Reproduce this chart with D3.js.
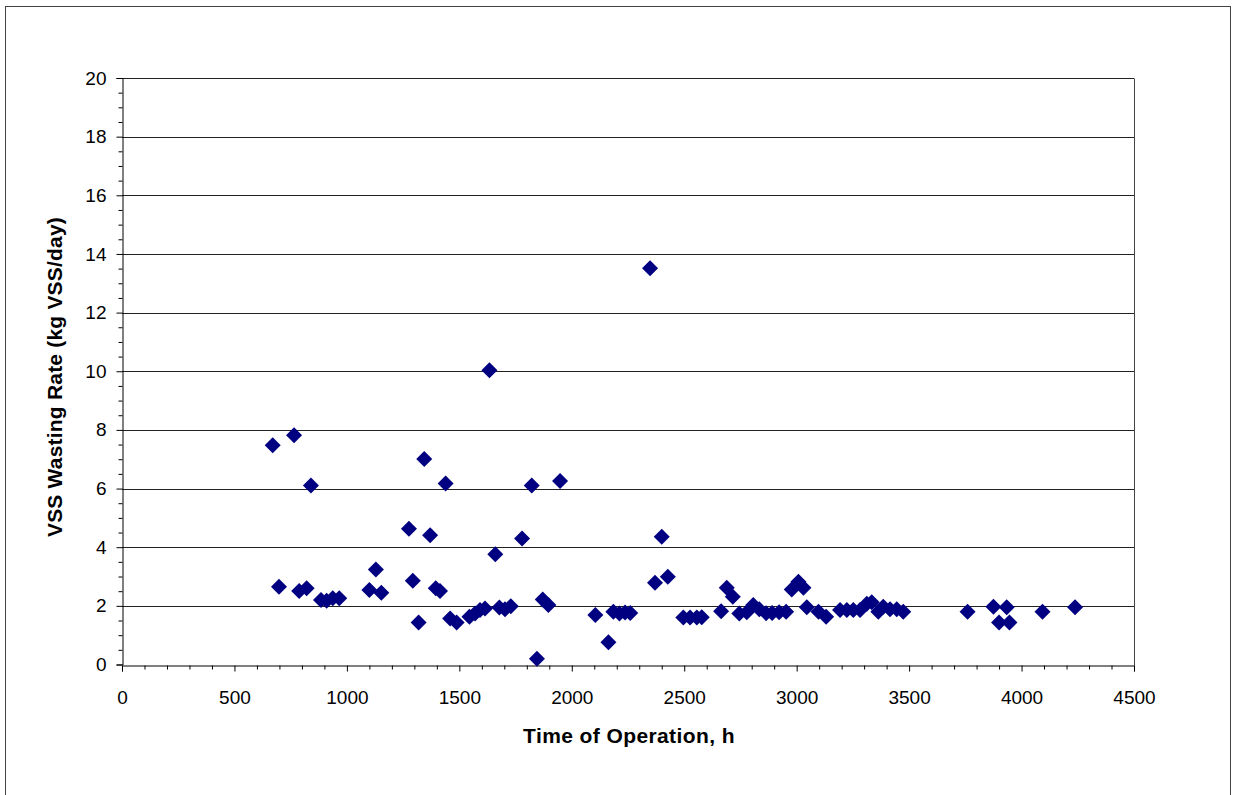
<!DOCTYPE html>
<html>
<head>
<meta charset="utf-8">
<script src="https://cdn.jsdelivr.net/npm/d3@7"></script>
<style>
  html, body { margin: 0; padding: 0; background: #fff; }
  svg { display: block; }
  text { font-family: "Liberation Sans", Arial, sans-serif; }
</style>
</head>
<body>
<svg id="chart" width="1233" height="795"></svg>
<script>
// Time of operation (h)
const timeHours = [
  670, 698, 765, 788, 821, 840, 885, 910, 937, 966,
  1100, 1129, 1153, 1276, 1293, 1319, 1344, 1370, 1395, 1414,
  1439, 1459, 1488, 1545, 1570, 1592, 1614, 1634, 1660, 1678,
  1703, 1729, 1779, 1822, 1845, 1871, 1896, 1948, 2105, 2163,
  2185, 2212, 2237, 2260, 2370, 2400, 2427, 2496, 2526, 2556,
  2578, 2664, 2689, 2716, 2745, 2778, 2807, 2834, 2864, 2891,
  2922, 2953, 2978, 3008, 3030, 3045, 3097, 3131, 3193, 3223,
  3252, 3282, 3312, 3334, 3363, 3385, 3415, 3445, 3474, 3760,
  3875, 3900, 3934, 3946, 4093, 4238, 2348
];
// VSS wasting rate (kg VSS/day)
const wastingRate = [
  7.48, 2.65, 7.82, 2.51, 2.60, 6.10, 2.20, 2.17, 2.26, 2.26,
  2.54, 3.24, 2.45, 4.63, 2.86, 1.43, 7.01, 4.41, 2.60, 2.51,
  6.17, 1.57, 1.43, 1.63, 1.74, 1.86, 1.91, 10.03, 3.76, 1.94,
  1.88, 1.99, 4.30, 6.10, 0.20, 2.22, 2.03, 6.26, 1.69, 0.76,
  1.80, 1.74, 1.77, 1.76, 2.79, 4.36, 2.99, 1.60, 1.60, 1.60,
  1.61, 1.82, 2.62, 2.31, 1.74, 1.78, 2.03, 1.88, 1.75, 1.76,
  1.78, 1.80, 2.56, 2.82, 2.62, 1.95, 1.80, 1.63, 1.86, 1.86,
  1.86, 1.86, 2.07, 2.12, 1.80, 1.97, 1.88, 1.88, 1.80, 1.80,
  1.97, 1.43, 1.95, 1.43, 1.80, 1.95, 13.51
];
const xTicks = [0, 500, 1000, 1500, 2000, 2500, 3000, 3500, 4000, 4500];
const yTicks = [0, 2, 4, 6, 8, 10, 12, 14, 16, 18, 20];
const xLabel = "Time of Operation, h";
const yLabel = "VSS Wasting Rate (kg VSS/day)";

const svg = d3.select("#chart");
const padL = 122, padR = 1134, padT = 78, padB = 664.5;

// outer chart border
svg.append("rect").attr("x", 5.5).attr("y", 6.5).attr("width", 1225).attr("height", 800)
  .attr("fill", "none").attr("stroke", "#444").attr("stroke-width", 1);

const x = d3.scaleLinear().domain([0, 4500]).range([padL, padR]);
const y = d3.scaleLinear().domain([0, 20]).range([padB, padT]);

// gridlines
svg.append("g").selectAll("line").data(yTicks.filter(d => d > 0)).join("line")
  .attr("x1", padL).attr("x2", padR)
  .attr("y1", d => Math.round(y(d)) + 0.5).attr("y2", d => Math.round(y(d)) + 0.5)
  .attr("stroke", "#222").attr("stroke-width", 1);

// right border of plot area
svg.append("line").attr("x1", padR + 0.5).attr("x2", padR + 0.5)
  .attr("y1", Math.round(padT) + 0.5).attr("y2", Math.round(padB) + 0.5)
  .attr("stroke", "#444");

// minor ticks
const xMinor = d3.range(0, 4501, 100).filter(d => d % 500 !== 0);
const yMinor = d3.range(0, 20.01, 0.5).filter(d => d % 2 !== 0);

svg.append("g").attr("transform", `translate(0,${Math.round(padB) + 0.5})`)
  .call(d3.axisBottom(x).tickValues(xTicks).tickFormat(d3.format("d")).tickSize(6).tickPadding(19));
svg.append("g").attr("transform", `translate(0,${Math.round(padB) + 0.5})`)
  .call(d3.axisBottom(x).tickValues(xMinor).tickFormat("").tickSize(4))
  .call(g => g.select(".domain").remove());

svg.append("g").attr("transform", `translate(${padL + 0.5},0)`)
  .call(d3.axisLeft(y).tickValues(yTicks).tickFormat(d3.format("d")).tickSize(6).tickPadding(10));
svg.append("g").attr("transform", `translate(${padL + 0.5},0)`)
  .call(d3.axisLeft(y).tickValues(yMinor).tickFormat("").tickSize(4))
  .call(g => g.select(".domain").remove());

svg.selectAll(".tick line").attr("stroke", "#000");
svg.selectAll(".domain").attr("stroke", "#000");
svg.selectAll(".tick text").attr("font-size", 19).attr("fill", "#000")
  .attr("font-family", "'Liberation Sans', Arial, sans-serif");

// markers
const pts = timeHours.map((t, i) => ({ t, v: wastingRate[i] }));
const r = 8;
svg.append("g").selectAll("path").data(pts).join("path")
  .attr("d", `M0,${-r}L${r},0L0,${r}L${-r},0Z`)
  .attr("transform", d => `translate(${x(d.t)},${y(d.v)})`)
  .attr("fill", "#000080");

// axis titles
svg.append("text").attr("x", 629).attr("y", 742.5)
  .attr("text-anchor", "middle").attr("font-size", 21).attr("font-weight", "bold")
  .attr("letter-spacing", 0.4)
  .text(xLabel);
svg.append("text").attr("transform", `translate(61.5,377) rotate(-90)`)
  .attr("text-anchor", "middle").attr("font-size", 21).attr("font-weight", "bold")
  .attr("letter-spacing", 0.2)
  .text(yLabel);
</script>
</body>
</html>
